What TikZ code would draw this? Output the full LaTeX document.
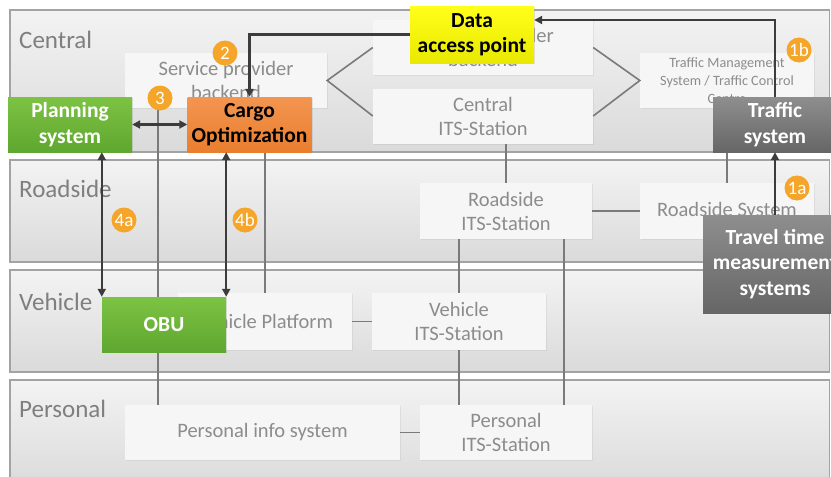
\documentclass[tikz,border=0pt]{standalone}
\usepackage{fontspec}
\setmainfont{Carlito}
\usetikzlibrary{calc,arrows.meta,shadows}

\definecolor{bandedge}{HTML}{A3A3A3}
\definecolor{bandtop}{HTML}{F3F3F3}
\definecolor{bandbot}{HTML}{DADADA}
\definecolor{layertxt}{HTML}{7F7F7F}
\definecolor{boxfill}{HTML}{F6F6F6}
\definecolor{boxtxt}{HTML}{8C8C8C}
\definecolor{linkgray}{HTML}{7A7A7A}
\definecolor{arrowdark}{HTML}{3C3C3C}
\definecolor{ygtop}{HTML}{FFFF1A}
\definecolor{ygbot}{HTML}{E8E800}
\definecolor{grtop}{HTML}{7DC243}
\definecolor{grbot}{HTML}{5FA730}
\definecolor{ortop}{HTML}{F39550}
\definecolor{orbot}{HTML}{E97E2E}
\definecolor{dgtop}{HTML}{8E8E8E}
\definecolor{dgbot}{HTML}{666666}
\definecolor{badgeor}{HTML}{F4A52A}

\tikzset{
  band/.style={draw=bandedge, line width=1.2pt, top color=bandtop, bottom color=bandbot},
  layer/.style={anchor=west, text=layertxt, font=\fontsize{25}{28}\selectfont, inner sep=0pt},
  graybox/.style={fill=boxfill, draw=none, text=boxtxt, align=center,
    font=\fontsize{20.5}{24}\selectfont, inner sep=0pt,
    drop shadow={opacity=0.12, shadow xshift=1pt, shadow yshift=-1.2pt}},
  hotbox/.style={draw=none, align=center, inner sep=0pt,
    font=\bfseries\fontsize{21.5}{25.5}\selectfont,
    drop shadow={opacity=0.18, shadow xshift=1pt, shadow yshift=-1.2pt}},
  yellowbox/.style={hotbox, top color=ygtop, bottom color=ygbot, text=black},
  greenbox/.style={hotbox, top color=grtop, bottom color=grbot, text=white},
  orangebox/.style={hotbox, top color=ortop, bottom color=orbot, text=black},
  darkbox/.style={hotbox, top color=dgtop, bottom color=dgbot, text=white},
  glink/.style={draw=linkgray, line width=1.6pt},
  arr/.style={draw=arrowdark, line width=2.2pt, -{Triangle[length=8pt,width=8pt]}},
  darr/.style={draw=arrowdark, line width=2.2pt,
    {Triangle[length=8pt,width=8pt]}-{Triangle[length=8pt,width=8pt]}},
  badge/.style={circle, fill=badgeor, text=white, minimum size=25pt, inner sep=0pt,
    font=\fontsize{19}{19}\selectfont}
}

\begin{document}
\begin{tikzpicture}[x=1pt, y=-1pt]
\useasboundingbox (0,0) rectangle (831,477);
\fill[white] (0,0) rectangle (831,477);

% layer bands
\draw[band] (10,10) rectangle (829.5,152);
\draw[band] (10,160) rectangle (829.5,262);
\draw[band] (10,270) rectangle (829.5,372);
\draw[band] (10,380) rectangle (829.5,490);

\node[layer] (lcentral) at (19,40) {Central};
\node[layer] (lroad) at (19,189) {Roadside};
\node[layer] (lveh) at (19,302) {Vehicle};
\node[layer] (lpers) at (19,409) {Personal};

% ITS architecture boxes
\node[graybox, minimum width=202pt, minimum height=55pt] (spb) at (226,80.5) {Service provider\\backend};
\node[graybox, minimum width=220pt, minimum height=55pt] (cpb) at (483,47.5) {Content provider\\backend};
\node[graybox, minimum width=220pt, minimum height=55pt] (cits) at (483,116) {Central\\ITS-Station};
\node[graybox, minimum width=174pt, minimum height=55pt,
      font=\fontsize{14.2}{18}\selectfont] (tms) at (727,80.5) {Traffic Management\\System / Traffic Control\\Centre};
\node[graybox, minimum width=172pt, minimum height=56pt] (rits) at (506,211) {Roadside\\ITS-Station};
\node[graybox, minimum width=174pt, minimum height=56pt] (rsys) at (727,211) {Roadside System};
\node[graybox, minimum width=174pt, minimum height=57pt] (vplat) at (265,321.5) {Vehicle Platform};
\node[graybox, minimum width=174pt, minimum height=57pt] (vits) at (459,321.5) {Vehicle\\ITS-Station};
\node[graybox, minimum width=275pt, minimum height=55pt] (pinfo) at (262.5,432.5) {Personal info system};
\node[graybox, minimum width=172pt, minimum height=55pt] (pits) at (506,432.5) {Personal\\ITS-Station};

% links between the architecture boxes
\draw[glink] (cpb.west) -- (spb.east) -- (cits.west);
\draw[glink] (cpb.east) -- (tms.west) -- (cits.east);
\draw[glink] (rits.north |- cits.south) -- (rits.north);
\draw[glink] (tms.south) -- (rsys.north);
\draw[glink] (rits.east) -- (rsys.west);
\draw[glink] (vits.north |- rits.south) -- (vits.north);
\draw[glink] (vits.south) -- (vits.south |- pits.north);
\draw[glink] ([xshift=58pt]rits.south) -- ([xshift=58pt]rits.south |- pits.north);
\draw[glink] (vplat.east) -- (vits.west);
\draw[glink] (pinfo.east) -- (pits.west);
\draw[glink] ([xshift=-68pt]spb.south) -- ([xshift=-68pt]spb.south |- pinfo.north);
\draw[glink] (vplat.north |- spb.south) -- (vplat.north);

% highlighted systems
\node[yellowbox, minimum width=124pt, minimum height=57pt] (dap) at (472,34.5) {Data\\access point};
\node[greenbox, minimum width=124pt, minimum height=55pt] (plan) at (70,124.5) {Planning\\system};
\node[orangebox, minimum width=124pt, minimum height=55pt] (cargo) at (249.5,124.5) {Cargo\\Optimization};
\node[darkbox, minimum width=124pt, minimum height=55pt] (traf) at (775,124.5) {Traffic\\system};
\node[darkbox, minimum width=144pt, minimum height=98pt] (tt) at (775,264) {Travel time\\measurement\\systems};
\node[greenbox, minimum width=124pt, minimum height=55pt] (obu) at (164,324.5) {OBU};

% information flows
\draw[arr] (dap.west) -| (cargo.north);
\draw[arr] (traf.north) |- ([yshift=14.5pt]dap.east);
\draw[darr] (plan.east) -- (cargo.west);
\draw[darr] (plan.south -| obu.north west) -- (obu.north west);
\draw[darr] (cargo.south -| obu.north east) -- (obu.north east);
\draw[arr] (tt.north) -- (traf.south);

% step badges
\node[badge] (b2) at (225,53) {2};
\node[badge] (b3) at (160,98) {3};
\node[badge] (b1b) at (799,50) {1b};
\node[badge] (b1a) at (797,188) {1a};
\node[badge] (b4a) at (124,220) {4a};
\node[badge] (b4b) at (245,220) {4b};
\end{tikzpicture}
\end{document}
